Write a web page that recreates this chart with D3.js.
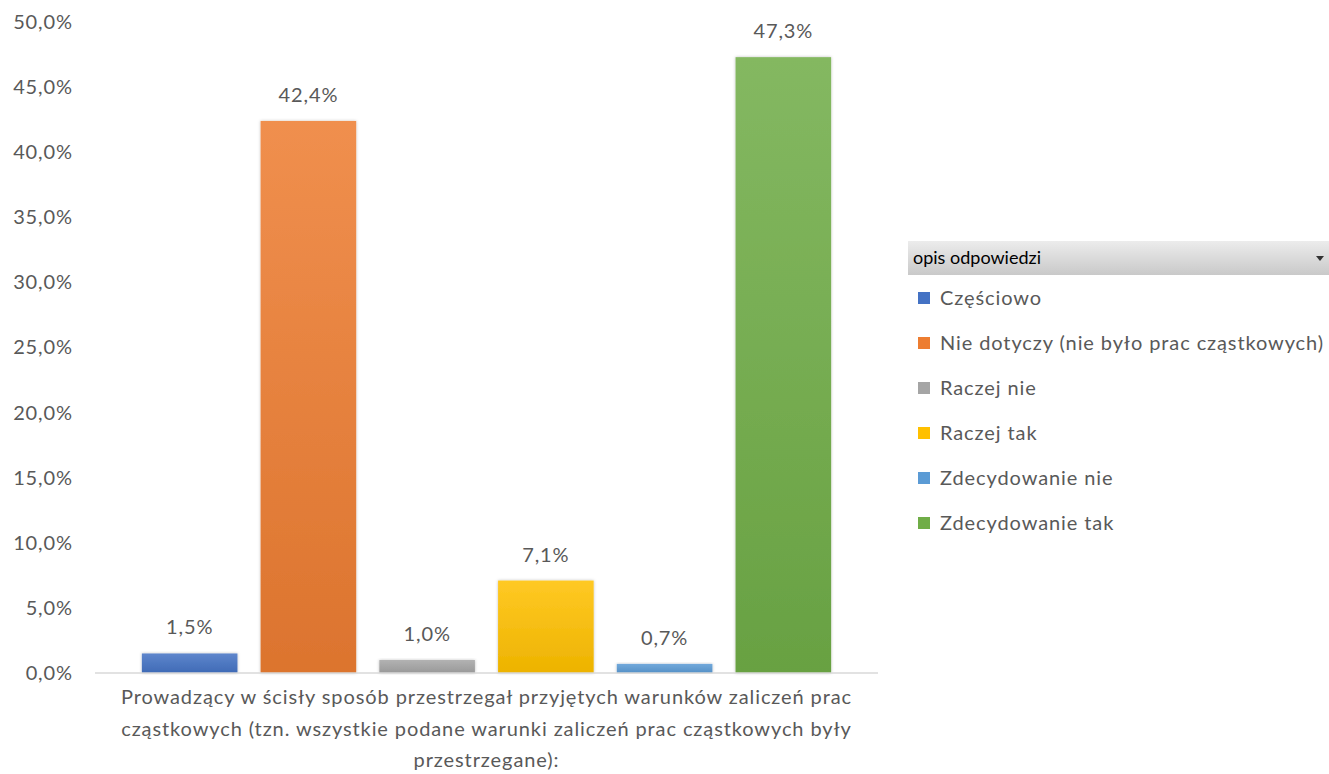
<!DOCTYPE html>
<html><head><meta charset="utf-8">
<script src="https://cdn.jsdelivr.net/npm/d3@7"></script>
<style>body{margin:0;background:#fff;} svg{display:block;}</style>
</head><body>
<svg id="chart" width="1329" height="774"></svg>
<script>
const seriesNames = ["Częściowo","Nie dotyczy (nie było prac cząstkowych)","Raczej nie","Raczej tak","Zdecydowanie nie","Zdecydowanie tak"];
const seriesValues = [1.5, 42.4, 1.0, 7.1, 0.7, 47.3];
const seriesColors = ["#4472C4","#ED7D31","#A5A5A5","#FFC000","#5B9BD5","#70AD47"];
const categoryLines = ["Prowadzący w ścisły sposób przestrzegał przyjętych warunków zaliczeń prac","cząstkowych (tzn. wszystkie podane warunki zaliczeń prac cząstkowych były","przestrzegane):"];
const yTicks = [0,5,10,15,20,25,30,35,40,45,50];
const legendTitle = "opis odpowiedzi";

const svg = d3.select("#chart");
const font = "Lato, 'Open Sans', sans-serif";
const txt = "#595959";
const fs = "20px", ls = "0.9px";
const fmt = v => d3.format(".1f")(v).replace(".", ",") + "%";

const x0 = 95, x1 = 878, yTop = 22, yBot = 673;
const y = d3.scaleLinear().domain([0,50]).range([yBot, yTop]);
const xc = d3.scaleBand().domain(["c"]).range([x0, x1]).paddingInner(0).paddingOuter(0.068);
const xs = d3.scaleBand().domain(seriesNames).range([xc("c"), xc("c")+xc.bandwidth()]).paddingInner(0.195).paddingOuter(0);

const defs = svg.append("defs");
seriesColors.forEach((c,i) => {
  const g = defs.append("linearGradient").attr("id","g"+i).attr("x1",0).attr("x2",0).attr("y1",0).attr("y2",1);
  g.append("stop").attr("offset","0%").attr("stop-color", d3.interpolateRgb(c, "#fff")(0.14));
  g.append("stop").attr("offset","100%").attr("stop-color", d3.interpolateRgb(c, "#000")(0.07));
});
const f = defs.append("filter").attr("id","sh").attr("x","-10%").attr("y","-10%").attr("width","120%").attr("height","120%");
f.append("feDropShadow").attr("dx",0).attr("dy",0).attr("stdDeviation",1.5).attr("flood-color","#000").attr("flood-opacity",0.25);
const lg = defs.append("linearGradient").attr("id","lh").attr("x1",0).attr("x2",0).attr("y1",0).attr("y2",1);
lg.append("stop").attr("offset","0%").attr("stop-color","#ececec");
lg.append("stop").attr("offset","100%").attr("stop-color","#c9c9c9");

// y axis
const yAxis = d3.axisLeft(y).tickValues(yTicks).tickFormat(v => d3.format(".1f")(v).replace(".", ",") + "%").tickSize(0).tickPadding(22);
const ya = svg.append("g").attr("transform",`translate(${x0},0)`).call(yAxis);
ya.select(".domain").remove();
ya.selectAll("text").attr("fill",txt).style("font-family",font).style("font-size",fs).style("letter-spacing",ls);

// bars
svg.append("g").selectAll("rect").data(seriesValues).join("rect")
  .attr("x",(d,i)=>xs(seriesNames[i]))
  .attr("width", xs.bandwidth())
  .attr("y", d=>y(d))
  .attr("height", d=>yBot - y(d))
  .attr("fill",(d,i)=>`url(#g${i})`)
  .attr("filter","url(#sh)");

// baseline
svg.append("line").attr("x1",x0).attr("x2",x1).attr("y1",yBot).attr("y2",yBot).attr("stroke","#d9d9d9").attr("stroke-width",1.5);

// value labels
svg.append("g").selectAll("text").data(seriesValues).join("text")
  .attr("x",(d,i)=>xs(seriesNames[i]) + xs.bandwidth()/2)
  .attr("y", d=>y(d) - 19)
  .attr("text-anchor","middle").attr("fill",txt)
  .style("font-family",font).style("font-size",fs).style("letter-spacing",ls)
  .text(fmt);

// category label
const cx = xc("c") + xc.bandwidth()/2;
svg.append("g").selectAll("text").data(categoryLines).join("text")
  .attr("x", cx).attr("y",(d,i)=>704 + i*31.5)
  .attr("text-anchor","middle").attr("fill",txt)
  .style("font-family",font).style("font-size",fs).style("letter-spacing",ls)
  .text(d=>d);

// legend
const lx = 908;
svg.append("rect").attr("x",lx).attr("y",241).attr("width",421).attr("height",34).attr("fill","url(#lh)");
svg.append("text").attr("x",lx+5).attr("y",264).attr("fill","#000").style("font-family",font).style("font-size","18px").text(legendTitle);
svg.append("path").attr("d",`M1316,256 L1324,256 L1320,261 Z`).attr("fill","#333");
const li = svg.append("g").selectAll("g").data(seriesNames).join("g")
  .attr("transform",(d,i)=>`translate(${lx},${298 + i*45})`);
li.append("rect").attr("x",10).attr("y",-6).attr("width",12).attr("height",12).attr("fill",(d,i)=>seriesColors[i]);
li.append("text").attr("x",32).attr("y",7).attr("fill",txt).style("font-family",font).style("font-size",fs).style("letter-spacing",ls).text(d=>d);
</script>
</body></html>
